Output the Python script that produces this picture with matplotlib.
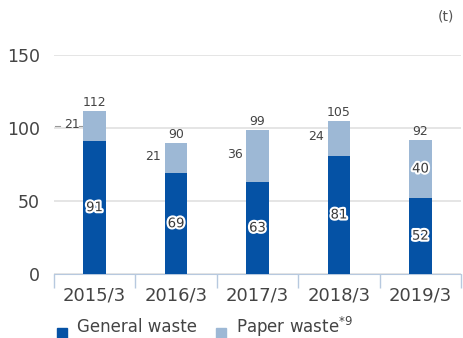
import matplotlib.pyplot as plt
import matplotlib.patheffects as pe
import numpy as np

years = ["2015/3", "2016/3", "2017/3", "2018/3", "2019/3"]
general = [91, 69, 63, 81, 52]
paper = [21, 21, 36, 24, 40]
totals = [112, 90, 99, 105, 92]

dark = '#0552a5'
light = '#9db8d5'
grey = '#444444'

fig = plt.figure(figsize=(4.64, 3.38), dpi=100)
ax = fig.add_axes([0.116, 0.189, 0.878, 0.648])

x = np.arange(len(years))
w = 0.28
ax.bar(x, general, w, color=dark, zorder=3)
ax.bar(x, paper, w, bottom=general, color=light, zorder=3)

halo = [pe.withStroke(linewidth=3, foreground='white')]
for i in range(len(years)):
    # general waste label inside the bar
    ax.text(x[i], general[i] / 2, str(general[i]), ha='center', va='center',
            fontsize=9.5, color='#3a3a3a', path_effects=halo, zorder=4)
    # total above
    ax.text(x[i], totals[i] + 1, str(totals[i]), ha='center', va='bottom',
            fontsize=9, color=grey, zorder=4)
    mid = general[i] + paper[i] / 2
    if i == len(years) - 1:
        ax.text(x[i], mid, str(paper[i]), ha='center', va='center',
                fontsize=9.5, color='#3a3a3a', path_effects=halo, zorder=4)
    else:
        ax.text(x[i] - 0.28, mid + 1, str(paper[i]), ha='center', va='center',
                fontsize=9, color=grey, zorder=4)
# leader dashes around the first paper label
ax.plot([-0.48, -0.42], [101.5, 101.5], color='#999999', lw=0.8, clip_on=False)
ax.plot([-0.19, -0.14], [101.5, 101.5], color='#999999', lw=0.8, clip_on=False)

ax.set_xlim(-0.5, len(years) - 0.5)
ax.set_ylim(0, 150)
ax.set_yticks([0, 50, 100, 150])
ax.yaxis.grid(True, color='#e0e0e0', lw=1.2, zorder=0)
ax.tick_params(axis='y', length=0, pad=10, labelsize=12.5, labelcolor='#444444')
ax.set_xticks(x)
ax.set_xticklabels(years, fontsize=13, color='#444444')
ax.tick_params(axis='x', length=0, pad=9)
ax.set_xticks(np.arange(-0.5, len(years)), minor=True)
ax.tick_params(axis='x', which='minor', length=10, color='#b7c9df', width=1)
for s in ['top', 'right', 'left']:
    ax.spines[s].set_visible(False)
ax.spines['bottom'].set_color('#b7c9df')

fig.text(0.978, 0.95, "(t)", ha='right', va='center', fontsize=10, color='#555555')

# legend
fig.patches.append(plt.Rectangle((0.123, 0.0), 0.022, 0.03, transform=fig.transFigure,
                                 color=dark))
fig.text(0.165, 0.033, "General waste", ha='left', va='center', fontsize=12, color='#444444')
fig.patches.append(plt.Rectangle((0.466, 0.0), 0.022, 0.03, transform=fig.transFigure,
                                 color=light))
fig.text(0.508, 0.033, r"Paper waste$^{*9}$", ha='left', va='center', fontsize=12, color='#444444')

fig.savefig("out.png", dpi=100)
